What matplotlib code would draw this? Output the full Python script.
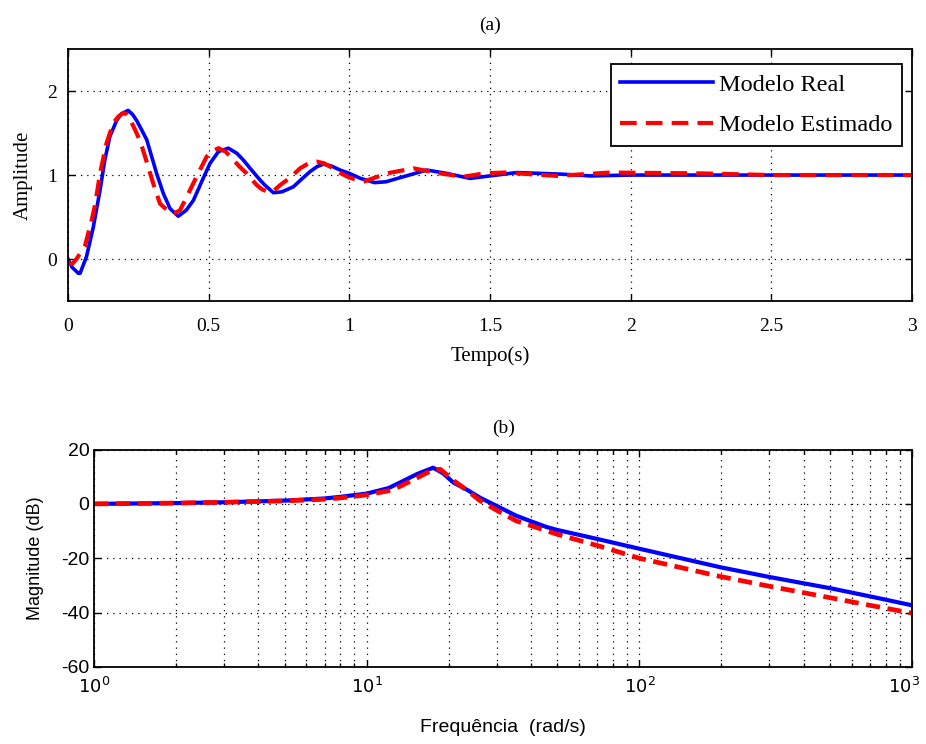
import matplotlib
matplotlib.use("Agg")
import matplotlib.pyplot as plt
import matplotlib.transforms as mtransforms
from matplotlib.ticker import LogLocator, NullFormatter, FixedLocator

plt.rcParams["axes.unicode_minus"] = False

# ---- step response data (a) ----
t_real = [0.0, 0.015, 0.037, 0.043, 0.066, 0.09, 0.114, 0.131, 0.149, 0.173, 0.19,
          0.214, 0.23, 0.244, 0.26, 0.28, 0.315, 0.339, 0.363, 0.392, 0.42, 0.446,
          0.475, 0.505, 0.535, 0.57, 0.60, 0.623, 0.65, 0.683, 0.70, 0.73, 0.76,
          0.801, 0.83, 0.86, 0.885, 0.908, 0.935, 0.967, 1.0, 1.04, 1.09, 1.13,
          1.192, 1.275, 1.346, 1.429, 1.5, 1.595, 1.76, 1.856, 2.0, 2.5, 3.0]
y_real = [0.0, -0.1, -0.17, -0.17, 0.03, 0.38, 0.82, 1.18, 1.46, 1.65, 1.73,
          1.77, 1.72, 1.65, 1.55, 1.42, 1.02, 0.78, 0.60, 0.51, 0.58, 0.70,
          0.92, 1.14, 1.28, 1.32, 1.26, 1.18, 1.07, 0.94, 0.88, 0.79, 0.80,
          0.86, 0.95, 1.04, 1.10, 1.13, 1.11, 1.06, 1.02, 0.96, 0.91, 0.92,
          0.98, 1.06, 1.02, 0.96, 0.99, 1.03, 1.01, 0.99, 1.0, 1.0, 1.0]

t_est = [0.0, 0.015, 0.03, 0.06, 0.084, 0.096, 0.114, 0.137, 0.161, 0.18, 0.197,
         0.21, 0.22, 0.244, 0.26, 0.274, 0.303, 0.327, 0.363, 0.38, 0.398, 0.422,
         0.457, 0.493, 0.51, 0.535, 0.56, 0.588, 0.61, 0.635, 0.671, 0.69, 0.712,
         0.73, 0.754, 0.79, 0.825, 0.855, 0.884, 0.91, 0.943, 0.97, 1.0, 1.05,
         1.133, 1.228, 1.322, 1.405, 1.48, 1.55, 1.737, 1.927, 2.25, 2.5, 3.0]
y_est = [-0.05, -0.06, 0.0, 0.15, 0.46, 0.64, 1.02, 1.38, 1.62, 1.70, 1.74,
         1.72, 1.67, 1.50, 1.37, 1.22, 0.90, 0.66, 0.55, 0.55, 0.58, 0.74,
         0.98, 1.22, 1.28, 1.32, 1.28, 1.18, 1.10, 1.02, 0.88, 0.83, 0.80,
         0.81, 0.88, 0.97, 1.08, 1.14, 1.16, 1.14, 1.08, 1.02, 0.97, 0.92,
         1.02, 1.08, 1.02, 0.98, 1.02, 1.03, 0.99, 1.03, 1.02, 1.0, 1.0]

# ---- magnitude response data (b) ----
f_real = [1, 2, 3, 5, 7, 8, 10, 12, 13.2, 15.3, 17.5, 19, 20.8, 23.3, 26, 30,
          35.4, 40, 45.6, 50, 70, 100, 200, 300, 500, 700, 1000]
db_real = [0.0, 0.3, 0.6, 1.2, 2.0, 2.6, 3.8, 5.8, 7.8, 11.0, 13.3, 11.3, 7.8, 5.2,
           2.3, -0.8, -4.4, -6.4, -8.5, -9.6, -12.9, -16.5, -23.4, -26.9, -31.0,
           -34.0, -37.3]

f_est = [1, 2, 3, 5, 7, 8, 10, 12, 13.2, 15.3, 17.5, 18.6, 20.8, 23.3, 26, 30,
         35.4, 40, 45.6, 50, 70, 100, 200, 300, 500, 700, 1000]
db_est = [0.0, 0.3, 0.6, 1.1, 1.7, 2.2, 3.3, 4.8, 6.4, 9.6, 12.6, 12.7, 8.6, 5.0,
          1.2, -2.4, -6.3, -8.0, -9.9, -11.2, -15.3, -20.0, -26.8, -30.3, -34.5,
          -37.3, -40.2]

serif = ["Liberation Serif", "DejaVu Serif"]
sans = ["Liberation Sans", "DejaVu Sans"]

fig = plt.figure(figsize=(9.26, 7.44), dpi=100)

def matlab_style(ax):
    ax.tick_params(which="both", direction="in", top=True, right=True,
                   colors="black", width=1)
    ax.tick_params(which="major", length=5)
    ax.tick_params(which="minor", length=3)
    for s in ax.spines.values():
        s.set_linewidth(1.3)
        s.set_color("black")
    ax.grid(True, which="major", linestyle=(0, (1, 4)), color="black", linewidth=0.9)

# ---------- (a) ----------
ax1 = fig.add_axes([0.0734, 0.5954, 0.9115, 0.3386])
ax1.plot(t_real, y_real, color="#0000ff", linewidth=2.6, label="Modelo Real")
ax1.plot(t_est, y_est, color="#ff0000", linewidth=3.0, linestyle=(0, (4, 2.2)),
         label="Modelo Estimado")
ax1.set_xlim(0, 3)
ax1.set_ylim(-0.5, 2.5)
ax1.set_xticks([0, 0.5, 1, 1.5, 2, 2.5, 3])
ax1.set_xticklabels(["0", "0.5", "1", "1.5", "2", "2.5", "3"])
ax1.set_yticks([0, 1, 2])
matlab_style(ax1)
ax1.tick_params(axis="x", which="major", pad=12)
ax1.tick_params(axis="y", which="major", pad=8)
for lbl in ax1.get_xticklabels() + ax1.get_yticklabels():
    lbl.set_family(serif)
    lbl.set_fontsize(14)
ax1.set_xlabel("Tempo(s)", family=serif, fontsize=15, labelpad=8)
ax1.set_ylabel("Amplitude", family=serif, fontsize=15, labelpad=10)
ax1.set_title("(a)", family=serif, fontsize=14, pad=14)
leg = ax1.legend(loc="upper right", bbox_to_anchor=(0.988, 0.94),
                 prop={"family": serif, "size": 17.5}, frameon=True,
                 fancybox=False, handlelength=3.8, borderpad=0.4,
                 labelspacing=0.75, handletextpad=0.25, borderaxespad=0.0)
leg.get_frame().set_edgecolor("black")
leg.get_frame().set_linewidth(1.3)
leg.get_frame().set_alpha(1)

# ---------- (b) ----------
ax2 = fig.add_axes([0.1018, 0.1035, 0.8831, 0.2923])
ax2.semilogx(f_real, db_real, color="#0000ff", linewidth=3.0)
ax2.semilogx(f_est, db_est, color="#ff0000", linewidth=3.4, linestyle=(0, (3, 1.6)))
ax2.set_xlim(1, 1000)
ax2.set_ylim(-60, 20)
ax2.set_yticks([-60, -40, -20, 0, 20])
ax2.xaxis.set_major_locator(FixedLocator([1, 10, 100, 1000]))
ax2.xaxis.set_minor_locator(LogLocator(base=10, subs=range(2, 10), numticks=20))
ax2.xaxis.set_minor_formatter(NullFormatter())
ax2.set_xticklabels([r"$10^0$", r"$10^1$", r"$10^2$", r"$10^3$"])
matlab_style(ax2)
ax2.grid(True, which="minor", axis="x", linestyle=(0, (1, 4)), color="black",
         linewidth=0.9)
for lbl in ax2.get_yticklabels():
    lbl.set_family(sans)
    lbl.set_fontsize(14)
for lbl in ax2.get_xticklabels():
    lbl.set_family(sans)
    lbl.set_fontsize(13)
ax2.tick_params(axis="x", which="major", pad=7)
# keep the last decade label inside the figure edge
last = ax2.get_xticklabels()[-1]
last.set_transform(last.get_transform() +
                   mtransforms.ScaledTranslation(-8 / 100, 0, fig.dpi_scale_trans))
ax2.set_xlabel("Frequência  (rad/s)", family=sans, fontsize=14, labelpad=16)
ax2.set_ylabel("Magnitude (dB)", family=sans, fontsize=13, labelpad=12)
ax2.set_title("(b)", family=serif, fontsize=14, pad=12)

fig.savefig("out.png", dpi=100)
